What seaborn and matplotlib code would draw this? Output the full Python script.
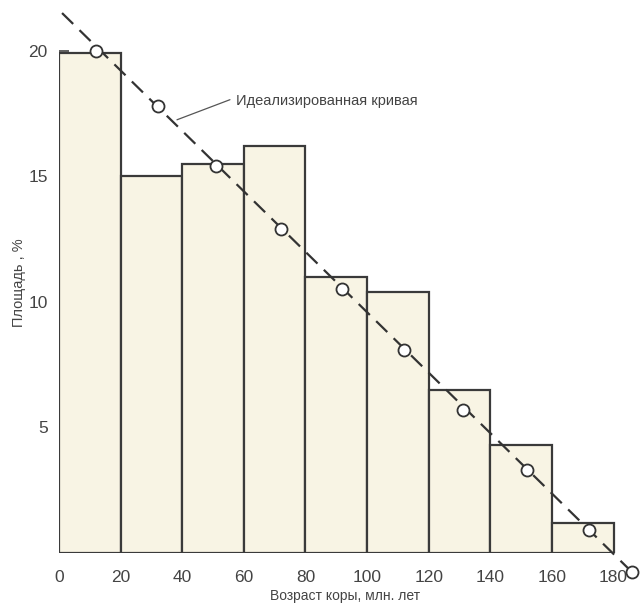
import matplotlib
matplotlib.use("Agg")
import matplotlib.pyplot as plt
import seaborn as sns

sns.set_style("white")
plt.rcParams["font.family"] = ["Liberation Sans", "DejaVu Sans"]

# age bins (million years) and share of area (%)
bin_edges = [0, 20, 40, 60, 80, 100, 120, 140, 160, 180]
bin_mids = [10, 30, 50, 70, 90, 110, 130, 150, 170]
area_pct = [19.9, 15.0, 15.5, 16.2, 11.0, 10.4, 6.5, 4.3, 1.2]

# idealised curve
curve_x = [1, 186]
curve_y = [21.5, -0.76]
point_x = [12, 32, 51, 72, 92, 112, 131, 152, 172, 186]
point_y = [20.0, 17.8, 15.4, 12.9, 10.5, 8.1, 5.7, 3.3, 0.9, -0.76]

y_ticks = [5, 10, 15, 20]
x_ticks = [0, 20, 40, 60, 80, 100, 120, 140, 160, 180]

fig = plt.figure(figsize=(6.41, 6.04), dpi=100)
ax = fig.add_axes([0.092, 0.0844, 0.894, 0.894])

sns.histplot(x=bin_mids, weights=area_pct, bins=bin_edges, ax=ax,
             color="#f8f4e4", alpha=1, edgecolor="#3a3a3a", linewidth=1.6)

ax.plot(curve_x, curve_y, color="#333333", lw=1.6, dashes=(7, 4),
        clip_on=False, zorder=4)
sns.scatterplot(x=point_x, y=point_y, ax=ax, s=75, facecolor="white",
                edgecolor="#333333", linewidth=1.3, zorder=5, clip_on=False)

# label with leader line
ax.plot([38.3, 55.5], [17.25, 18.05], color="#555555", lw=0.9, zorder=3)
ax.text(57.5, 18.0, "Идеализированная кривая", fontsize=10.5,
        color="#444444", va="center", ha="left")

ax.set_xlim(0, 186)
ax.set_ylim(0, 21.5)
ax.set_xticks(x_ticks)
ax.set_yticks(y_ticks)
for s in ax.spines.values():
    s.set_visible(False)
ax.tick_params(axis="x", length=0, pad=12, labelsize=12.5, labelcolor="#444444")
ax.tick_params(axis="y", direction="in", length=7, width=1.2, color="#444444",
               left=True, pad=8, labelsize=12.5, labelcolor="#444444")

ax.set_xlabel("Возраст коры, млн. лет", fontsize=10, color="#444444", labelpad=3)
ax.set_ylabel("Площадь , %", fontsize=10.5, color="#444444", labelpad=2)

fig.savefig("out.png", dpi=100)
